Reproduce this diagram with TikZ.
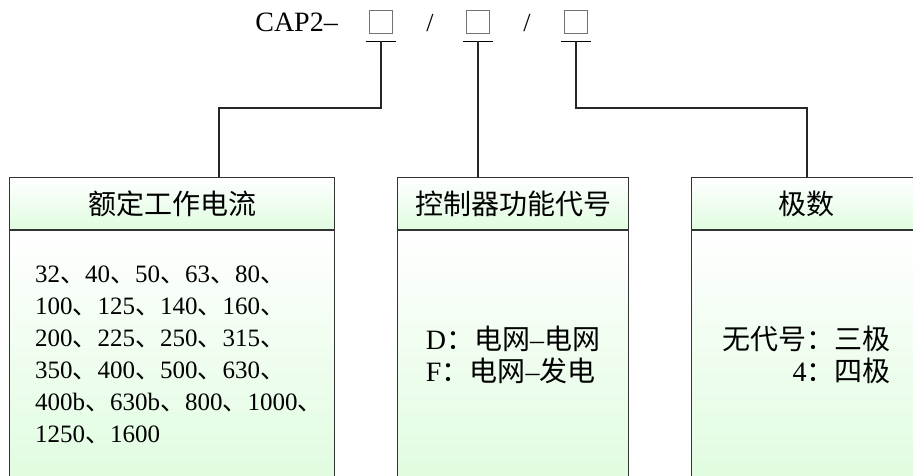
\documentclass[tikz,border=0pt]{standalone}
\usepackage{fontspec}
\setmainfont{Liberation Serif}
\newfontfamily\cjk{Noto Sans CJK SC}
\definecolor{boxgreen}{RGB}{224,252,224}
\newcommand{\dun}{{\cjk 、}}
\newcommand{\mao}{{\cjk ：}}

\begin{document}
\begin{tikzpicture}[
  x=1pt,y=-1pt,
  every node/.style={inner sep=0pt},
  headbox/.style={draw=black!80,line width=1.1pt,top color=white,bottom color=boxgreen,
    minimum height=52pt,anchor=north west,font=\cjk\fontsize{28}{32}\selectfont},
  bodybox/.style={draw=black!80,line width=1.1pt,top color=white,bottom color=boxgreen,
    minimum height=249pt,anchor=north west},
  bodytext/.style={font=\fontsize{28}{32}\selectfont},
  sqbox/.style={draw=black!55,line width=0.8pt,minimum size=23pt},
  uline/.style={black,line width=1.6pt},
  link/.style={draw=black!85,line width=1.1pt}
]
  \useasboundingbox (0,0) rectangle (913,475);
  \clip (0,0) rectangle (913,475);

  % model code
  \node[font=\fontsize{28}{32}\selectfont,anchor=east] (cap) at (338,22) {CAP2--};
  \node[sqbox] (s1) at (381,21.5) {};
  \node[font=\fontsize{26}{32}\selectfont] (sl1) at (430,23) {/};
  \node[sqbox] (s2) at (478,21.5) {};
  \node[font=\fontsize{26}{32}\selectfont] (sl2) at (527,23) {/};
  \node[sqbox] (s3) at (576,21.5) {};
  \coordinate (u1) at ([yshift=-8pt]s1.south);
  \coordinate (u2) at ([yshift=-8pt]s2.south);
  \coordinate (u3) at ([yshift=-8pt]s3.south);
  \draw[uline] ([xshift=-15pt]u1) -- ([xshift=15pt]u1);
  \draw[uline] ([xshift=-15pt]u2) -- ([xshift=15pt]u2);
  \draw[uline] ([xshift=-15pt]u3) -- ([xshift=15pt]u3);

  % boxes
  \node[headbox,minimum width=325pt] (hcur) at (9,177) {额定工作电流};
  \node[bodybox,minimum width=325pt] (bcur) at (hcur.south west) {};
  \node[headbox,minimum width=231pt] (hctl) at (397,177) {控制器功能代号};
  \node[bodybox,minimum width=231pt] (bctl) at (hctl.south west) {};
  \node[headbox,minimum width=230pt] (hpole) at (691,177) {极数};
  \node[bodybox,minimum width=230pt] (bpole) at (hpole.south west) {};

  \node[font=\fontsize{25}{32}\selectfont,align=left,anchor=west] (tcur) at ([xshift=26pt]bcur.west)
    {32\dun 40\dun 50\dun 63\dun 80\dun\\
     100\dun 125\dun 140\dun 160\dun\\
     200\dun 225\dun 250\dun 315\dun\\
     350\dun 400\dun 500\dun 630\dun\\
     400b\dun 630b\dun 800\dun 1000\dun\\
     1250\dun 1600};
  \node[bodytext,align=left] (tctl) at (bctl.center)
    {D\mao{\cjk 电网}--{\cjk 电网}\\F\mao{\cjk 电网}--{\cjk 发电}};
  \node[bodytext,align=right] (tpole) at (bpole.center)
    {{\cjk 无代号}\mao{\cjk 三极}\\4\mao{\cjk 四极}};

  % connectors
  \coordinate (k1) at (219,108);
  \coordinate (k3) at (807,108);
  \draw[link] (u1) |- (k1) -- (k1 |- hcur.north);
  \draw[link] (u2) -- (u2 |- hctl.north);
  \draw[link] (u3) |- (k3) -- (k3 |- hpole.north);
\end{tikzpicture}
\end{document}
